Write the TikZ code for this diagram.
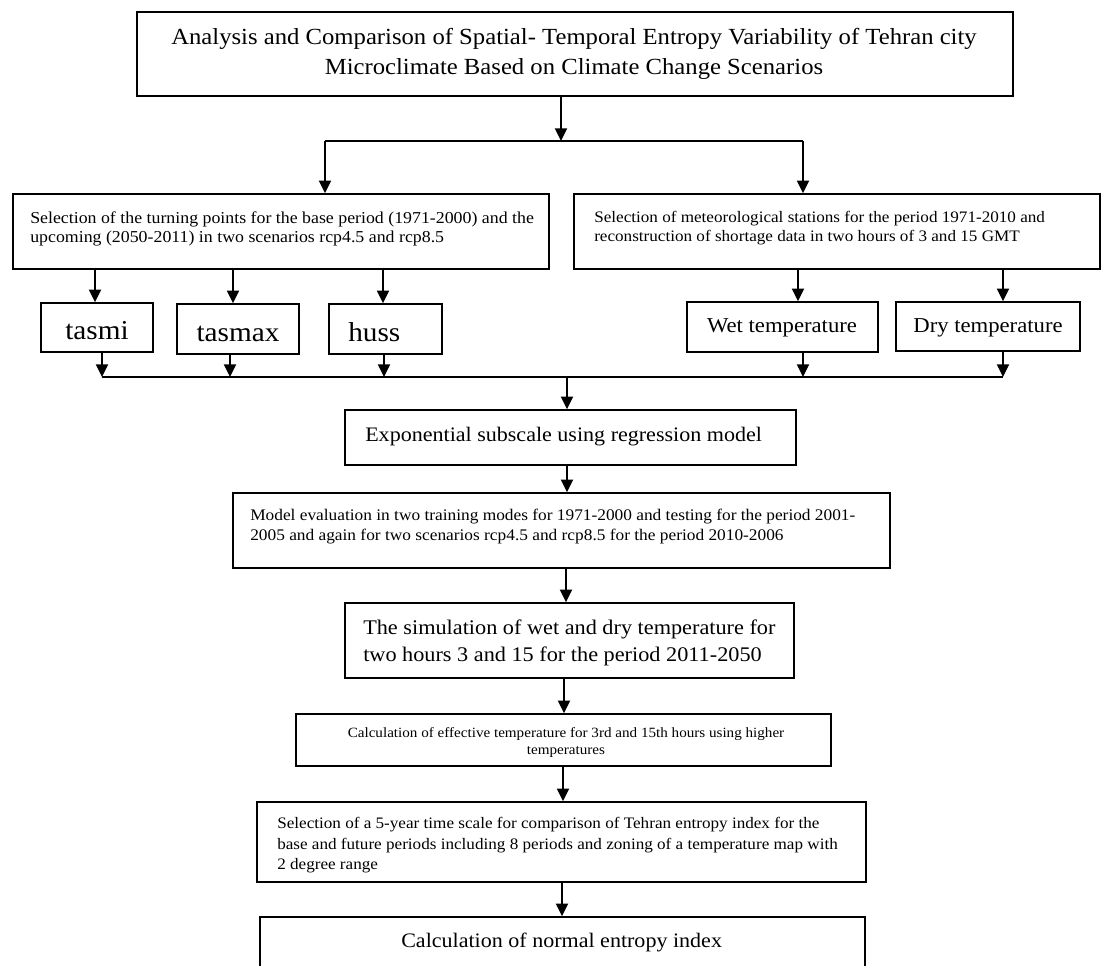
\documentclass[tikz,border=0pt]{standalone}
\usepackage{fontspec}
\setmainfont{Liberation Serif}[FakeStretch=1.07]
\usetikzlibrary{arrows.meta,fit}
\newcommand\fsz[2]{\fontsize{#1}{#2}\selectfont}
\begin{document}
\begin{tikzpicture}[x=0.75pt,y=-0.75pt,
  box/.style={draw, line width=1.2pt, inner sep=0pt, fit={#1}},
  txt/.style={inner sep=0pt, align=left},
  arr/.style={line width=1.4pt, -{Triangle[width=9pt,length=9.5pt]}},
  ln/.style={line width=1.4pt}]
\useasboundingbox (0,0) rectangle (1104,965);
\fill[white] (0,0) rectangle (1104,965);

% boxes
\node[box={(137,12) (1013,96)}] (title) {};
\node[box={(13,194) (549,269)}] (sela) {};
\node[box={(574,194) (1100,269)}] (selb) {};
\node[box={(41,303) (153,352)}] (tasmi) {};
\node[box={(177,304) (299,354)}] (tasmax) {};
\node[box={(329,304) (442,354)}] (huss) {};
\node[box={(687,302) (878,352)}] (wet) {};
\node[box={(896,302) (1080,351)}] (dry) {};
\node[box={(345,410) (796,465)}] (expo) {};
\node[box={(233,493) (890,568)}] (model) {};
\node[box={(345,603) (794,678)}] (sim) {};
\node[box={(296,714) (831,766)}] (calc) {};
\node[box={(257,802) (866,882)}] (five) {};
\node[box={(260,917) (865,1000)}] (final) {};

% texts
\node[txt, align=center, anchor=north, font=\fsz{17.3pt}{22.5pt}] (titletext) at (574,27.5)
  {Analysis and Comparison of Spatial- Temporal Entropy Variability of Tehran city\\Microclimate Based on Climate Change Scenarios};
\node[txt, anchor=north west, font=\fsz{12.5pt}{14.25pt}] (selatext) at (30,211)
  {Selection of the turning points for the base period (1971-2000) and the\\upcoming (2050-2011) in two scenarios rcp4.5 and rcp8.5};
\node[txt, anchor=north west, font=\fsz{12pt}{14.25pt}] (selbtext) at (594,211)
  {Selection of meteorological stations for the period 1971-2010 and\\reconstruction of shortage data in two hours of 3 and 15 GMT};
\node[txt, anchor=base, font=\fsz{20.5pt}{24pt}] (tasmitext) at (97,339) {tasmi};
\node[txt, anchor=base, font=\fsz{20.5pt}{24pt}] (tasmaxtext) at (238,341) {tasmax};
\node[txt, anchor=base west, font=\fsz{20.5pt}{24pt}] (husstext) at (348,341) {huss};
\node[txt, anchor=base, font=\fsz{15.9pt}{19pt}] (wettext) at (782,332) {Wet temperature};
\node[txt, anchor=base, font=\fsz{15.9pt}{19pt}] (drytext) at (988,332) {Dry temperature};
\node[txt, anchor=base west, font=\fsz{15.45pt}{18pt}] (expotext) at (365,441) {Exponential subscale using regression model};
\node[txt, anchor=north west, font=\fsz{12.15pt}{15pt}] (modeltext) at (250,509)
  {Model evaluation in two training modes for 1971-2000 and testing for the period 2001-\\2005 and again for two scenarios rcp4.5 and rcp8.5 for the period 2010-2006};
\node[txt, anchor=north west, font=\fsz{15.6pt}{20pt}] (simtext) at (363,620)
  {The simulation of wet and dry temperature for\\two hours 3 and 15 for the period 2011-2050};
\node[txt, align=center, anchor=north, font=\fsz{10.6pt}{12.75pt}] (calctext) at (566,727)
  {Calculation of effective temperature for 3rd and 15th hours using higher\\temperatures};
\node[txt, anchor=north west, font=\fsz{12pt}{15.4pt}] (fivetext) at (277,817)
  {Selection of a 5-year time scale for comparison of Tehran entropy index for the\\base and future periods including 8 periods and zoning of a temperature map with\\2 degree range};
\node[txt, anchor=base west, font=\fsz{15.45pt}{18pt}] (finaltext) at (401,947) {Calculation of normal entropy index};

% junction coordinates
\coordinate (s0) at (561,141);
\coordinate (s1) at (325,141);
\coordinate (s2) at (803,141);
\coordinate (a1) at (95,0);
\coordinate (a2) at (233,0);
\coordinate (a3) at (383,0);
\coordinate (b1) at (798,0);
\coordinate (b2) at (1003,0);
\coordinate (m1) at (102,377);
\coordinate (m2) at (230,377);
\coordinate (m3) at (384,377);
\coordinate (m4) at (803,377);
\coordinate (m5) at (1003,377);
\coordinate (mc) at (567,377);
\coordinate (c2) at (566,0);
\coordinate (c3) at (564,0);
\coordinate (c4) at (563,0);
\coordinate (c5) at (562,0);

% connectors
\draw[arr] (title.south -| s0) -- (s0);
\draw[ln] (s1) -- (s2);
\draw[arr] (s1) -- (sela.north -| s1);
\draw[arr] (s2) -- (selb.north -| s2);
\draw[arr] (sela.south -| a1) -- (tasmi.north -| a1);
\draw[arr] (sela.south -| a2) -- (tasmax.north -| a2);
\draw[arr] (sela.south -| a3) -- (huss.north -| a3);
\draw[arr] (selb.south -| b1) -- (wet.north -| b1);
\draw[arr] (selb.south -| b2) -- (dry.north -| b2);
\draw[arr] (tasmi.south -| m1) -- (m1);
\draw[arr] (tasmax.south -| m2) -- (m2);
\draw[arr] (huss.south -| m3) -- (m3);
\draw[arr] (wet.south -| m4) -- (m4);
\draw[arr] (dry.south -| m5) -- (m5);
\draw[ln] (m1) -- (m5);
\draw[arr] (mc) -- (expo.north -| mc);
\draw[arr] (expo.south -| mc) -- (model.north -| mc);
\draw[arr] (model.south -| c2) -- (sim.north -| c2);
\draw[arr] (sim.south -| c3) -- (calc.north -| c3);
\draw[arr] (calc.south -| c4) -- (five.north -| c4);
\draw[arr] (five.south -| c5) -- (final.north -| c5);
\end{tikzpicture}
\end{document}
